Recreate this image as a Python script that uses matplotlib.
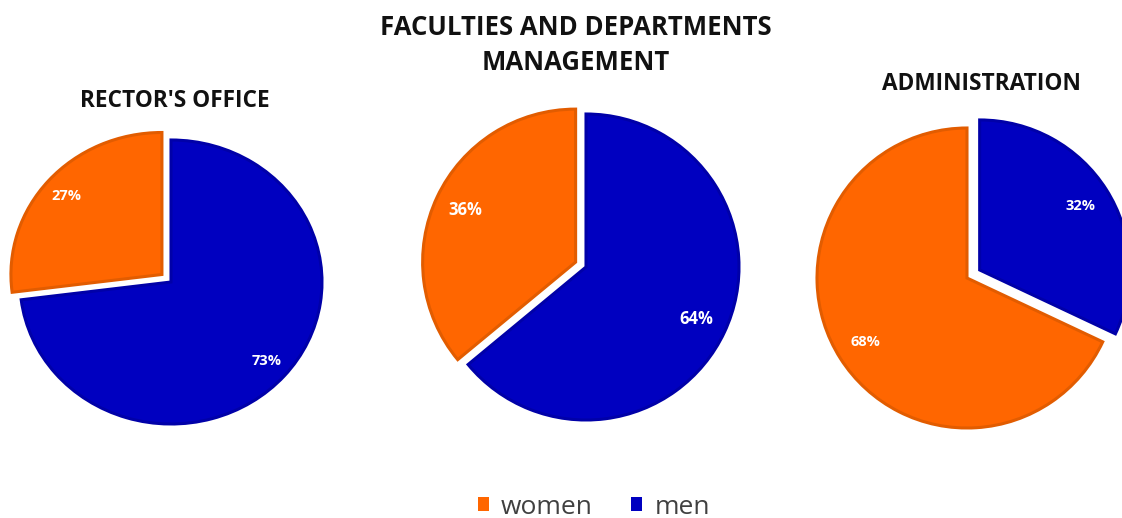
import matplotlib
matplotlib.use('Agg')
import matplotlib.pyplot as plt
from matplotlib.patches import Patch

plt.rcParams['font.family'] = ['Open Sans', 'DejaVu Sans']

W, H = 1122, 518

titles = ["RECTOR'S OFFICE", "FACULTIES AND DEPARTMENTS\nMANAGEMENT", "ADMINISTRATION"]
labels = ['women', 'men']
women = [27, 36, 68]
men = [73, 64, 32]

orange = '#FF6600'
blue = '#0000C0'
orange_edge = '#E25C00'
blue_edge = '#0000A8'

# pie centre (px), radius x/y (px), explode, pct distance, label size, title pos/size
layout = [
    dict(c=(171, 282), rx=151, ry=142, explode=(0.08, 0), pd=0.84, fs=10.5,
         tpos=(175, 101), tfs=16.3),
    dict(c=(586, 267), rx=153, ry=153, explode=(0.075, 0), pd=0.80, fs=12,
         tpos=(576, 45), tfs=18.5),
    dict(c=(967, 278), rx=150, ry=150, explode=(0, 0.1), pd=0.80, fs=10.5,
         tpos=(981, 84), tfs=16.3),
]

fig = plt.figure(figsize=(W / 100, H / 100), dpi=100)

for i, L in enumerate(layout):
    cx, cy = L['c']
    rx, ry = L['rx'], L['ry']
    ext = 1.3
    ax = fig.add_axes([(cx - ext * rx) / W, 1 - (cy + ext * ry) / H,
                       2 * ext * rx / W, 2 * ext * ry / H])
    wedges, texts, autotexts = ax.pie(
        [women[i], men[i]], colors=[orange, blue], startangle=90,
        explode=L['explode'], autopct='%1.0f%%', pctdistance=L['pd'],
        wedgeprops=dict(linewidth=2.2), textprops=dict(color='white', fontweight='bold',
                                                       fontsize=L['fs']))
    wedges[0].set_edgecolor(orange_edge)
    wedges[1].set_edgecolor(blue_edge)
    ax.set_aspect('auto')
    ax.set_xlim(-ext, ext)
    ax.set_ylim(-ext, ext)
    ax.axis('off')
    tx, ty = L['tpos']
    fig.text(tx / W, 1 - ty / H, titles[i], ha='center', va='center',
             fontsize=L['tfs'], fontweight='bold', color='#111111', linespacing=1.42)

handles = [Patch(facecolor=orange), Patch(facecolor=blue)]
fig.legend(handles, labels, loc='center', bbox_to_anchor=(594 / W, 1 - 507 / H),
           ncol=2, frameon=False, fontsize=19, labelcolor='#404040',
           handlelength=0.42, handleheight=0.42, handletextpad=0.45, columnspacing=1.45,
           borderpad=0, borderaxespad=0)

fig.savefig('out.png', dpi=100)
